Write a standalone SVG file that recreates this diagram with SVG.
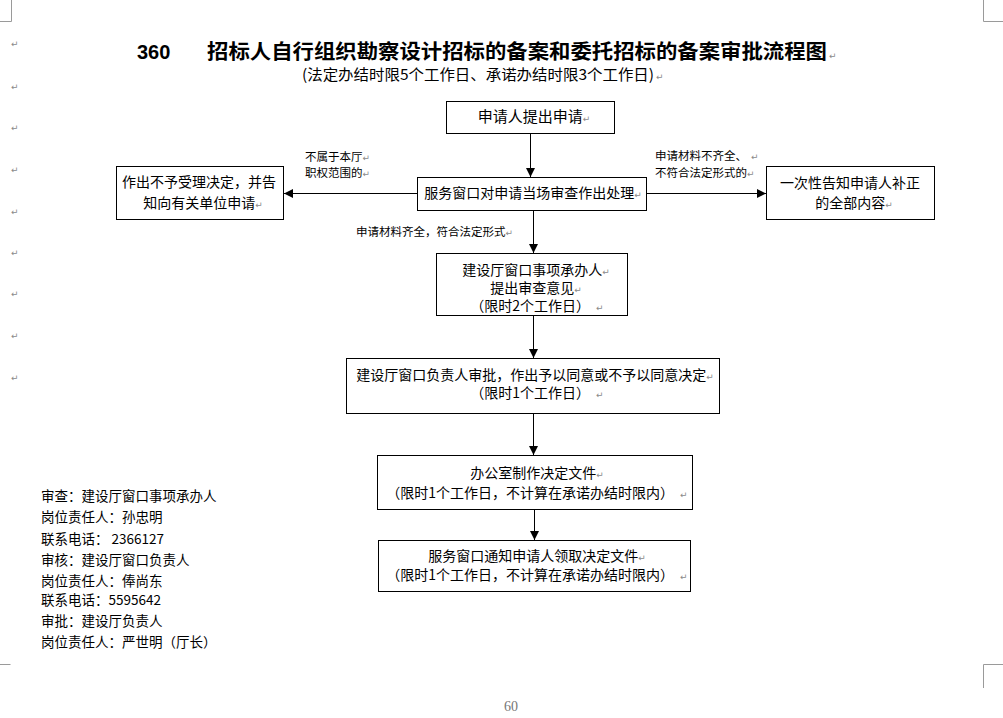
<svg xmlns="http://www.w3.org/2000/svg" width="1003" height="718" viewBox="0 0 1003 718">
<style>
.t{font-family:"Noto Sans CJK SC","Noto Sans",sans-serif;font-size:14px;fill:#000}
.c{text-anchor:middle}
.s{font-size:11.5px}
.pm{font-family:"DejaVu Sans",sans-serif;font-size:9px;fill:#8a8a8a}
.box{fill:#fff;stroke:#000;stroke-width:1}
.ln{fill:none;stroke:#000;stroke-width:1;marker-end:url(#ah)}
.crop{fill:none;stroke:#9a9a9a;stroke-width:1}
</style>
<defs>
<marker id="ah" markerUnits="userSpaceOnUse" markerWidth="10" markerHeight="9" refX="9" refY="4.5" orient="auto">
<path d="M0,0 L9,4.5 L0,9 z" fill="#000"/>
</marker>
</defs>
<rect width="1003" height="718" fill="#fff"/>
<g id="page-marks">
<path class="crop" d="M0,21.5 H11.5 V0 M983.5,0 V21.5 H1003 M0,664.5 H10.5 M1003,664.5 H983.5 V688"/>
<text class="pm" x="11" y="47">↵</text>
<text class="pm" x="11" y="90">↵</text>
<text class="pm" x="11" y="131">↵</text>
<text class="pm" x="11" y="173">↵</text>
<text class="pm" x="11" y="215">↵</text>
<text class="pm" x="11" y="256">↵</text>
<text class="pm" x="11" y="297">↵</text>
<text class="pm" x="11" y="339">↵</text>
<text class="pm" x="11" y="381">↵</text>
<text x="511" y="711" style="font-family:'Liberation Serif',serif;font-size:14px;fill:#777;text-anchor:middle">60</text>
</g>
<g id="title">
<text x="137" y="59" style="font-family:'Liberation Sans',sans-serif;font-weight:bold;font-size:20px">360</text>
<text class="t" x="207" y="59" style="font-weight:bold;font-size:20px" textLength="620" lengthAdjust="spacingAndGlyphs">招标人自行组织勘察设计招标的备案和委托招标的备案审批流程图</text>
<text class="pm" x="829" y="59">↵</text>
<text class="t" x="302" y="80" style="font-size:15px" textLength="352" lengthAdjust="spacingAndGlyphs">(法定办结时限5个工作日、承诺办结时限3个工作日)</text>
<text class="pm" x="656" y="80">↵</text>
</g>
<g id="connectors">
<path class="ln" d="M530.5,133 V177"/>
<path class="ln" d="M417,193.5 H284"/>
<path class="ln" d="M647,193.5 H766"/>
<path class="ln" d="M533.5,210 V253"/>
<path class="ln" d="M533.5,316 V358"/>
<path class="ln" d="M533.5,413 V455"/>
<path class="ln" d="M534.5,509 V540"/>
<text class="t s" x="305" y="161">不属于本厅<tspan class="pm">↵</tspan></text>
<text class="t s" x="305" y="177">职权范围的<tspan class="pm">↵</tspan></text>
<text class="t s" x="655" y="160">申请材料不齐全、<tspan class="pm" dx="4">↵</tspan></text>
<text class="t s" x="655" y="177">不符合法定形式的<tspan class="pm">↵</tspan></text>
<text class="t s" x="356" y="236">申请材料齐全，符合法定形式<tspan class="pm">↵</tspan></text>
</g>
<g id="n1">
<rect class="box" x="446.5" y="101.5" width="168" height="32"/>
<text class="t c" x="534" y="122" style="font-size:15px">申请人提出申请<tspan class="pm">↵</tspan></text>
</g>
<g id="n2">
<rect class="box" x="417.5" y="177.5" width="229" height="33"/>
<text class="t c" x="533" y="198">服务窗口对申请当场审查作出处理<tspan class="pm">↵</tspan></text>
</g>
<g id="n-reject">
<rect class="box" x="116.5" y="166.5" width="167" height="53"/>
<text class="t c" x="199" y="187">作出不予受理决定，并告</text>
<text class="t c" x="203" y="208">知向有关单位申请<tspan class="pm">↵</tspan></text>
</g>
<g id="n-supplement">
<rect class="box" x="766.5" y="166.5" width="168" height="53"/>
<text class="t c" x="850" y="188">一次性告知申请人补正</text>
<text class="t c" x="854" y="208">的全部内容<tspan class="pm">↵</tspan></text>
</g>
<g id="n3">
<rect class="box" x="436.5" y="253.5" width="191" height="62"/>
<text class="t c" x="536" y="275">建设厅窗口事项承办人<tspan class="pm">↵</tspan></text>
<text class="t c" x="536" y="293">提出审查意见<tspan class="pm">↵</tspan></text>
<text class="t c" x="537" y="311">（限时2个工作日）<tspan class="pm" dx="6">↵</tspan></text>
</g>
<g id="n4">
<rect class="box" x="346.5" y="358.5" width="373" height="55"/>
<text class="t c" x="535" y="380">建设厅窗口负责人审批，作出予以同意或不予以同意决定<tspan class="pm">↵</tspan></text>
<text class="t c" x="537" y="398">（限时1个工作日）<tspan class="pm" dx="6">↵</tspan></text>
</g>
<g id="n5">
<rect class="box" x="377.5" y="455.5" width="315" height="54"/>
<text class="t c" x="537" y="478">办公室制作决定文件<tspan class="pm">↵</tspan></text>
<text class="t c" x="537" y="498">（限时1个工作日，不计算在承诺办结时限内）<tspan class="pm" dx="6">↵</tspan></text>
</g>
<g id="n6">
<rect class="box" x="378.5" y="540.5" width="312" height="51"/>
<text class="t c" x="537" y="561">服务窗口通知申请人领取决定文件<tspan class="pm">↵</tspan></text>
<text class="t c" x="537" y="580">（限时1个工作日，不计算在承诺办结时限内）<tspan class="pm" dx="6">↵</tspan></text>
</g>
<g id="responsible">
<text class="t" x="41" y="501" style="font-size:13.5px">审查：建设厅窗口事项承办人</text>
<text class="t" x="41" y="522" style="font-size:13.5px">岗位责任人：孙忠明</text>
<text class="t" x="41" y="544" style="font-size:13.5px">联系电话： 2366127</text>
<text class="t" x="41" y="565" style="font-size:13.5px">审核：建设厅窗口负责人</text>
<text class="t" x="41" y="586" style="font-size:13.5px">岗位责任人：俸尚东</text>
<text class="t" x="41" y="605" style="font-size:13.5px">联系电话：5595642</text>
<text class="t" x="41" y="626" style="font-size:13.5px">审批：建设厅负责人</text>
<text class="t" x="41" y="647" style="font-size:13.5px">岗位责任人：严世明（厅长）</text>
</g>
</svg>
